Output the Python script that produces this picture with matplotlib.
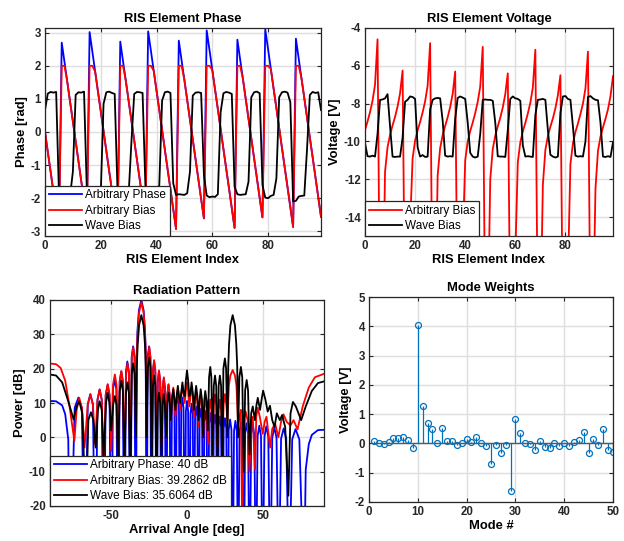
import matplotlib
matplotlib.use("Agg")
import matplotlib.pyplot as plt

# ---------------- data ----------------
element_index = list(range(100))

arb_phase = [0.00, -0.60, -1.19, -1.79, -2.39, -2.99, 2.70, 2.11, 1.51, 0.91,
             0.32, -0.28, -0.88, -1.48, -2.07, -2.67, 3.02, 2.42, 1.82, 1.22,
             0.63, 0.03, -0.57, -1.17, -1.76, -2.36, -2.96, 2.73, 2.13, 1.54,
             0.94, 0.34, -0.25, -0.85, -1.45, -2.05, -2.64, 3.04, 2.45, 1.85,
             1.25, 0.66, 0.06, -0.54, -1.14, -1.73, -2.33, -2.93, 2.76, 2.16,
             1.57, 0.97, 0.37, -0.22, -0.82, -1.42, -2.02, -2.61, 3.07, 2.48,
             1.88, 1.28, 0.69, 0.09, -0.51, -1.11, -1.70, -2.30, -2.90, 2.79,
             2.19, 1.60, 1.00, 0.40, -0.19, -0.79, -1.39, -1.99, -2.58, 3.10,
             2.51, 1.91, 1.31, 0.72, 0.12, -0.48, -1.08, -1.67, -2.27, -2.87,
             2.82, 2.22, 1.62, 1.03, 0.43, -0.17, -0.76, -1.36, -1.96, -2.56]

arb_bias_phase = [0.00, -0.60, -1.19, -1.79, -2.39, -2.99, 2.00, 2.00, 1.51, 0.91,
                  0.32, -0.28, -0.88, -1.48, -2.07, -2.67, 2.00, 2.00, 1.82, 1.22,
                  0.63, 0.03, -0.57, -1.17, -1.76, -2.36, -2.96, 2.00, 2.00, 1.54,
                  0.94, 0.34, -0.25, -0.85, -1.45, -2.05, -2.64, 2.00, 2.00, 1.85,
                  1.25, 0.66, 0.06, -0.54, -1.14, -1.73, -2.33, -2.93, 2.00, 2.00,
                  1.57, 0.97, 0.37, -0.22, -0.82, -1.42, -2.02, -2.61, 2.00, 2.00,
                  1.88, 1.28, 0.69, 0.09, -0.51, -1.11, -1.70, -2.30, -2.90, 2.00,
                  2.00, 1.60, 1.00, 0.40, -0.19, -0.79, -1.39, -1.99, -2.58, 2.00,
                  2.00, 1.91, 1.31, 0.72, 0.12, -0.48, -1.08, -1.67, -2.27, -2.87,
                  2.00, 2.00, 1.62, 1.03, 0.43, -0.17, -0.76, -1.36, -1.96, -2.56]

wave_bias_phase = [0.66, 1.16, 1.21, 1.19, 1.21, -1.85, -1.93, -1.93, -1.90, -1.92,
                   -1.20, 1.12, 1.20, 1.19, 1.22, -1.75, -1.93, -1.92, -1.95, -1.92,
                   -1.85, 0.85, 1.20, 1.22, 1.18, 1.15, -1.75, -1.93, -1.95, -1.93,
                   -1.88, -0.30, 1.15, 1.21, 1.20, 1.18, -1.60, -1.92, -1.94, -1.93,
                   -1.92, -1.60, 0.95, 1.20, 1.22, 1.18, -1.55, -1.90, -1.88, -1.89,
                   -1.90, -1.85, -1.20, 1.10, 1.19, 1.20, 1.18, -1.30, -1.92, -1.97,
                   -1.95, -1.96, -1.88, 0.60, 1.17, 1.21, 1.19, 1.15, -1.65, -1.88,
                   -1.90, -1.89, -1.88, -1.50, 1.05, 1.20, 1.22, 1.17, -1.60, -1.98,
                   -2.00, -1.93, -1.90, -1.40, 1.05, 1.20, 1.22, 1.19, 0.90, -2.10,
                   -2.08, -1.95, -1.93, -1.92, -0.50, 1.12, 1.21, 1.18, 1.20, 0.66]

arb_bias_volt = [-9.40, -8.95, -8.45, -7.85, -7.00, -4.60, -20.0, -20.0, -11.6, -10.3,
                 -9.65, -9.15, -8.70, -8.15, -7.45, -6.25, -20.0, -20.0, -14.5, -10.9,
                 -9.95, -9.42, -8.97, -8.47, -7.88, -7.05, -4.80, -20.0, -20.0, -11.8,
                 -10.35, -9.67, -9.18, -8.72, -8.18, -7.48, -6.30, -20.0, -20.0, -15.5,
                 -11.0, -10.0, -9.45, -9.00, -8.50, -7.90, -7.10, -5.00, -20.0, -20.0,
                 -12.0, -10.4, -9.70, -9.20, -8.75, -8.20, -7.50, -6.40, -20.0, -20.0,
                 -16.0, -11.1, -10.05, -9.47, -9.02, -8.52, -7.95, -7.15, -5.15, -20.0,
                 -20.0, -12.3, -10.45, -9.72, -9.22, -8.78, -8.25, -7.55, -6.50, -20.0,
                 -20.0, -17.0, -11.2, -10.1, -9.50, -9.05, -8.55, -8.00, -7.20, -5.25,
                 -20.0, -20.0, -12.5, -10.5, -9.75, -9.25, -8.80, -8.30, -7.60, -6.55]

wave_bias_volt = [-10.08, -10.78, -10.80, -10.75, -10.80, -9.60, -7.80, -7.78, -7.72, -7.50,
                  -9.20, -10.80, -10.82, -10.80, -10.80, -9.80, -7.90, -7.80, -7.62, -7.65,
                  -7.75, -10.30, -10.80, -10.72, -10.82, -10.80, -8.30, -7.80, -7.72, -7.70,
                  -7.72, -8.90, -10.75, -10.80, -10.78, -10.80, -8.80, -7.70, -7.62, -7.68,
                  -7.75, -9.00, -10.60, -10.80, -10.85, -10.80, -9.60, -7.80, -7.78, -7.80,
                  -7.80, -7.85, -9.00, -10.78, -10.80, -10.80, -10.82, -9.40, -7.75, -7.62,
                  -7.72, -7.75, -7.85, -10.20, -10.80, -10.78, -10.80, -10.82, -8.60, -7.80,
                  -7.78, -7.75, -7.80, -9.40, -10.70, -10.80, -10.85, -10.80, -8.50, -7.62,
                  -7.60, -7.75, -7.80, -9.20, -10.75, -10.80, -10.78, -10.80, -10.00, -7.65,
                  -7.60, -7.72, -7.80, -7.82, -9.00, -10.80, -10.82, -10.78, -10.82, -10.05]

# radiation pattern, (angle deg, power dB) read lobe by lobe
arb_phase_pattern = [
    (-90, 10.6), (-86, 10.5), (-82, 9.3), (-80, 6.7), (-78, -0.6), (-76.8, -45),
    (-73.8, 8.6), (-71.3, 11.6), (-69.1, 8.6), (-67.1, -45),
    (-65.2, 9.6), (-63.5, 12.6), (-61.8, 9.6), (-60.3, -45),
    (-58.8, 10.9), (-57.4, 13.9), (-56.0, 10.9), (-54.7, -45),
    (-53.4, 12.3), (-52.1, 15.3), (-50.9, 12.3), (-49.7, -45),
    (-48.6, 14.0), (-47.5, 17.0), (-46.4, 14.0), (-45.3, -45),
    (-44.2, 16.2), (-43.2, 19.2), (-42.2, 16.2), (-41.1, -45),
    (-40.1, 19.1), (-39.2, 22.1), (-38.2, 19.1), (-37.3, -45),
    (-36.3, 23.5), (-35.4, 26.5), (-34.5, 23.5), (-33.6, -45),
    (-33.0, 24.6), (-32.5, 31.3), (-31.6, 37.0), (-30.0, 40.0),
    (-28.5, 37.0), (-27.6, 31.3), (-27.1, 24.6), (-26.6, -45),
    (-25.8, 23.5), (-24.9, 26.5), (-24.1, 23.5), (-23.3, -45),
    (-22.4, 19.1), (-21.6, 22.1), (-20.8, 19.1), (-20.0, -45),
    (-19.2, 16.2), (-18.4, 19.2), (-17.6, 16.2), (-16.8, -45),
    (-16.0, 14.0), (-15.3, 17.0), (-14.5, 14.0), (-13.7, -45),
    (-12.9, 12.3), (-12.2, 15.3), (-11.4, 12.3), (-10.6, -45),
    (-9.9, 10.9), (-9.1, 13.9), (-8.3, 10.9), (-7.6, -45),
    (-6.8, 9.6), (-6.0, 12.6), (-5.3, 9.6), (-4.5, -45),
    (-3.8, 8.6), (-3.0, 11.6), (-2.3, 8.6), (-1.5, -45),
    (-0.75, 7.6), (0.0, 10.6), (0.75, 7.6), (1.5, -45),
    (2.3, 6.8), (3.0, 9.8), (3.8, 6.8), (4.5, -45),
    (5.3, 6.0), (6.0, 9.0), (6.8, 6.0), (7.6, -45),
    (8.3, 5.3), (9.1, 8.3), (9.9, 5.3), (10.6, -45),
    (11.4, 4.7), (12.2, 7.7), (12.9, 4.7), (13.7, -45),
    (14.5, 4.1), (15.3, 7.1), (16.0, 4.1), (16.8, -45),
    (17.6, 3.6), (18.4, 6.6), (19.2, 3.6), (20.0, -45),
    (20.8, 3.1), (21.6, 6.1), (22.4, 3.1), (23.3, -45),
    (24.1, 2.6), (24.9, 5.6), (25.8, 2.6), (26.6, -45),
    (27.4, 2.2), (28.3, 5.2), (29.2, 2.2), (30.0, -45),
    (30.9, 1.8), (31.8, 4.8), (32.7, 1.8), (33.6, -45),
    (34.5, 1.4), (35.4, 4.4), (36.3, 1.4), (37.3, -45),
    (38.2, 1.1), (39.2, 4.1), (40.1, 1.1), (41.1, -45),
    (42.2, 0.8), (43.2, 3.8), (44.2, 0.8), (45.3, -45),
    (46.4, 0.4), (47.5, 3.4), (48.6, 0.4), (49.7, -45),
    (50.9, 0.2), (52.1, 3.2), (53.4, 0.2), (54.7, -45),
    (56.0, -0.1), (57.4, 2.9), (58.8, -0.1), (60.3, -45),
    (61.8, -0.4), (63.5, 2.6), (65.2, -0.4), (67.1, -45),
    (69.1, -0.6), (71.3, 2.4), (73.8, -0.6), (76.8, -45),
    (78, -9.4), (80, -2.0), (82, 0.7), (86, 2.1), (90, 2.2),
]

arb_bias_pattern = [
    (-90, 21.5), (-86, 21.3), (-83, 20.2), (-80, 16.5), (-77, 8.5), (-74.0, -1.0),
    (-72.5, 8.0), (-70.8, 11.5), (-69.0, 8.5), (-67.3, -3),
    (-65.2, 9.5), (-63.5, 12.5), (-61.8, 9.5), (-60.4, -2),
    (-58.8, 11.0), (-57.4, 14.0), (-56.0, 11.0), (-54.8, -8),
    (-53.4, 12.5), (-52.1, 15.5), (-50.9, 12.5), (-49.8, -4),
    (-48.6, 15.3), (-47.4, 18.3), (-46.3, 15.3), (-45.3, -6),
    (-44.2, 16.5), (-43.1, 19.3), (-42.1, 16.5), (-41.1, -10),
    (-40.1, 18.5), (-39.1, 21.5), (-38.2, 18.5), (-37.3, -8),
    (-36.3, 23.2), (-35.3, 26.2), (-34.4, 23.2), (-33.6, 5),
    (-33.0, 24.0), (-32.4, 30.6), (-31.5, 36.3), (-30.0, 39.3),
    (-28.5, 36.3), (-27.6, 30.6), (-27.1, 24.0), (-26.6, 5),
    (-25.7, 23.3), (-24.8, 26.3), (-24.0, 23.3), (-23.2, 2),
    (-22.4, 19.5), (-21.6, 22.5), (-20.8, 19.5), (-20.0, -5),
    (-19.2, 16.5), (-18.4, 19.5), (-17.6, 16.5), (-16.8, -2),
    (-16.0, 14.5), (-15.2, 17.5), (-14.4, 14.5), (-13.7, 3),
    (-12.9, 12.5), (-12.1, 15.5), (-11.4, 12.5), (-10.6, 5),
    (-9.8, 11.5), (-9.0, 14.5), (-8.3, 11.5), (-7.6, 6),
    (-6.8, 11.5), (-6.0, 14.3), (-5.3, 11.5), (-4.5, 8),
    (-3.8, 12.5), (-3.0, 15.0), (-2.3, 12.5), (-1.5, 10),
    (-0.75, 13.5), (0.0, 16.0), (0.75, 13.5), (1.5, 9),
    (2.3, 12.0), (3.0, 14.5), (3.8, 12.0), (4.5, 6),
    (5.3, 10.5), (6.0, 13.0), (6.8, 10.5), (7.6, 3),
    (8.3, 9.5), (9.1, 12.5), (9.9, 9.5), (10.6, 0),
    (11.4, 8.5), (12.2, 11.5), (12.9, 8.5), (13.7, -2),
    (14.5, 8.0), (15.3, 11.0), (16.0, 8.0), (16.8, -5),
    (17.6, 9.5), (18.4, 12.5), (19.2, 9.5), (20.0, -3),
    (20.8, 8.0), (21.6, 11.0), (22.4, 8.0), (23.3, 0),
    (24.1, 9.6), (24.9, 12.6), (25.8, 9.6), (26.6, 5),
    (27.5, 15.0), (28.5, 18.0), (30.0, 19.6), (31.5, 18.0), (32.5, 15.0), (33.6, 3),
    (34.5, 6.0), (35.4, 8.0), (36.2, -25),
    (37.3, 5.0), (38.5, 7.5), (39.8, 5.0), (41.0, -10),
    (42.2, 4.0), (43.2, 6.0), (44.7, -9.4),
    (45.5, 6.0), (46.5, 8.6), (47.8, 6.0), (49.8, 1),
    (51.0, 4.5), (52.2, 6.0), (54.6, -3),
    (56.0, 2.5), (57.9, 4.0), (60.0, 0),
    (61.8, 4.5), (63.4, 6.7), (65.5, 4.5), (68.0, 3.5),
    (70.0, 5.0), (72.6, 2.3), (76.0, 9.0), (80.0, 14.5), (84.0, 17.5), (90.0, 18.5),
]

wave_bias_pattern = [
    (-90, 18.3), (-86, 18.0), (-82, 16.0), (-78, 10.5), (-74.5, 5.2),
    (-72.5, 9.0), (-70.8, 10.5), (-68.8, 7.0), (-66.4, -22),
    (-64.8, 5.0), (-63.1, 7.3), (-61.5, 5.0), (-60.0, -3),
    (-58.5, 8.0), (-57.4, 10.5), (-56.0, 8.0), (-54.8, -6),
    (-53.2, 10.0), (-52.1, 13.0), (-50.9, 10.0), (-49.8, 2),
    (-48.5, 9.5), (-47.4, 12.0), (-46.3, 9.5), (-45.3, -6),
    (-44.2, 13.5), (-43.1, 16.5), (-42.1, 13.5), (-41.1, -10),
    (-40.1, 13.0), (-39.1, 16.0), (-38.2, 13.0), (-37.3, -15),
    (-36.3, 18.5), (-35.4, 21.5), (-34.4, 18.5), (-33.5, 0),
    (-33.0, 20.5), (-32.4, 27.0), (-31.5, 32.6), (-30.0, 35.6),
    (-28.5, 32.6), (-27.6, 27.0), (-27.1, 20.5), (-26.6, 0),
    (-25.7, 20.2), (-24.7, 23.2), (-23.9, 20.2), (-23.2, -10),
    (-22.4, 15.0), (-21.6, 18.0), (-20.8, 15.0), (-20.0, -20),
    (-19.2, 10.0), (-18.4, 13.0), (-17.6, 10.0), (-16.8, -5),
    (-16.0, 9.5), (-15.3, 12.5), (-14.5, 9.5), (-13.7, 0),
    (-12.9, 10.0), (-12.0, 13.0), (-11.3, 10.0), (-10.6, 5),
    (-9.8, 11.0), (-9.0, 14.0), (-8.3, 11.0), (-7.6, 8),
    (-6.8, 12.0), (-6.0, 15.0), (-5.3, 12.0), (-4.5, 10),
    (-3.8, 13.0), (-3.0, 16.0), (-2.3, 13.0), (-1.5, 12),
    (-0.75, 16.5), (0.0, 19.5), (0.75, 16.5), (1.5, 12),
    (2.3, 13.0), (3.0, 16.0), (3.8, 13.0), (4.5, 8),
    (5.3, 12.0), (6.0, 15.0), (6.8, 12.0), (7.6, 5),
    (8.3, 11.0), (9.0, 14.0), (9.8, 11.0), (10.6, 0),
    (11.3, 10.5), (12.0, 13.5), (12.9, 10.5), (13.7, 2),
    (14.5, 17.5), (15.3, 20.5), (16.0, 17.5), (16.8, -5),
    (17.6, 15.0), (18.4, 18.0), (19.2, 15.0), (20.0, -10),
    (20.8, 15.0), (21.6, 18.0), (22.4, 15.0), (23.2, -15),
    (23.9, 20.0), (24.9, 23.0), (25.7, 20.0), (26.6, 0),
    (27.1, 20.5), (27.6, 27.0), (28.5, 32.6), (30.0, 35.6),
    (31.5, 32.6), (32.4, 27.0), (33.0, 20.5), (33.5, 0),
    (34.4, 17.5), (35.4, 20.5), (36.3, 17.5), (37.3, -10),
    (38.2, 13.7), (39.2, 16.7), (40.1, 13.7), (41.1, -5),
    (42.2, 7.0), (43.2, 9.0), (44.6, 5.0),
    (45.5, 9.0), (46.5, 11.5), (48.0, 8.0),
    (49.0, 11.0), (50.0, 13.6), (51.5, 11.0), (53.0, 7.5),
    (54.5, 9.2), (56.0, 5.0), (57.5, 3.0),
    (59.0, 7.0), (61.0, 5.0), (62.5, 6.5), (64.5, 3.0), (66.6, -17),
    (68.0, 7.0), (69.6, 10.3), (71.5, 9.0), (75.0, 5.0),
    (78.0, 9.0), (82.0, 13.5), (86.0, 15.8), (90.0, 16.3),
]

mode_number = list(range(1, 51))
mode_weight = [0.07, 0.00, -0.02, 0.05, 0.20, 0.18, 0.21, 0.12, -0.16, 4.03,
               1.27, 0.71, 0.48, 0.02, 0.53, 0.07, 0.08, -0.05, 0.03, 0.15,
               0.06, 0.21, 0.02, -0.10, -0.69, -0.05, -0.33, -0.07, -1.62, 0.83,
               0.34, 0.00, -0.02, -0.23, 0.09, -0.11, -0.14, 0.00, -0.10, 0.02,
               -0.08, 0.06, 0.11, 0.39, -0.32, 0.16, -0.06, 0.48, -0.24, -0.29]

# ---------------- style ----------------
plt.rcParams["font.family"] = ["Liberation Sans", "DejaVu Sans"]
plt.rcParams["font.size"] = 8.5
plt.rcParams["axes.unicode_minus"] = False
AX_COL = "#262626"
GRID_COL = "#dedede"


def matlab_axes(ax):
    ax.grid(True, color=GRID_COL, linewidth=1.0)
    ax.set_axisbelow(True)
    for s in ax.spines.values():
        s.set_color(AX_COL)
        s.set_linewidth(0.9)
    ax.tick_params(direction="in", length=3, width=0.8, colors=AX_COL,
                   labelsize=8.3, top=True, right=True, pad=3)
    for lab in ax.get_xticklabels() + ax.get_yticklabels():
        lab.set_fontweight("bold")
        lab.set_color(AX_COL)


def matlab_legend(ax):
    leg = ax.legend(loc="lower left", bbox_to_anchor=(0, 0), borderaxespad=0,
                    fancybox=False, framealpha=1, edgecolor=AX_COL,
                    handlelength=2.8, handletextpad=0.3, labelspacing=0.3,
                    borderpad=0.3, fontsize=8.5)
    leg.get_frame().set_linewidth(0.9)
    return leg


fig = plt.figure(figsize=(6.24, 5.41), dpi=100)
W, H = 624.0, 541.0


def px_axes(x0, y0, x1, y1):
    return fig.add_axes([x0 / W, 1 - y1 / H, (x1 - x0) / W, (y1 - y0) / H])


title_kw = dict(fontsize=9.4, fontweight="bold", pad=4)
label_kw = dict(fontsize=9.4, fontweight="bold")

# ---- RIS Element Phase ----
ax1 = px_axes(45, 28, 321, 236)
ax1.plot(element_index, arb_phase, color="blue", lw=1.3, label="Arbitrary Phase")
ax1.plot(element_index, arb_bias_phase, color="red", lw=1.3, label="Arbitrary Bias")
ax1.plot(element_index, wave_bias_phase, color="black", lw=1.3, label="Wave Bias")
ax1.set_xlim(0, 99)
ax1.set_ylim(-3.1416, 3.1416)
ax1.set_xticks([0, 20, 40, 60, 80])
ax1.set_yticks([-3, -2, -1, 0, 1, 2, 3])
ax1.set_title("RIS Element Phase", **title_kw)
ax1.set_xlabel("RIS Element Index", labelpad=1, **label_kw)
ax1.set_ylabel("Phase [rad]", labelpad=2, **label_kw)
matlab_axes(ax1)
matlab_legend(ax1)

# ---- RIS Element Voltage ----
ax2 = px_axes(365, 28, 613, 236)
ax2.plot(element_index, arb_bias_volt, color="red", lw=1.3, label="Arbitrary Bias")
ax2.plot(element_index, wave_bias_volt, color="black", lw=1.3, label="Wave Bias")
ax2.set_xlim(0, 99)
ax2.set_ylim(-15, -4)
ax2.set_xticks([0, 20, 40, 60, 80])
ax2.set_yticks([-14, -12, -10, -8, -6, -4])
ax2.set_title("RIS Element Voltage", **title_kw)
ax2.set_xlabel("RIS Element Index", labelpad=1, **label_kw)
ax2.set_ylabel("Voltage [V]", labelpad=2, **label_kw)
matlab_axes(ax2)
matlab_legend(ax2)

# ---- Radiation Pattern ----
ax3 = px_axes(50, 300, 324, 506)
for pattern, col, name in [(arb_phase_pattern, "blue", "Arbitrary Phase: 40 dB"),
                           (arb_bias_pattern, "red", "Arbitrary Bias: 39.2862 dB"),
                           (wave_bias_pattern, "black", "Wave Bias: 35.6064 dB")]:
    ang = [p[0] for p in pattern]
    pwr = [p[1] for p in pattern]
    ax3.plot(ang, pwr, color=col, lw=1.3, label=name)
ax3.set_xlim(-90, 90)
ax3.set_ylim(-20, 40)
ax3.set_xticks([-50, 0, 50])
ax3.set_yticks([-20, -10, 0, 10, 20, 30, 40])
ax3.set_title("Radiation Pattern", **title_kw)
ax3.set_xlabel("Arrival Angle [deg]", labelpad=1, **label_kw)
ax3.set_ylabel("Power [dB]", labelpad=2, **label_kw)
matlab_axes(ax3)
matlab_legend(ax3)

# ---- Mode Weights ----
ax4 = px_axes(369, 297, 613, 502)
mk, st, bl = ax4.stem(mode_number, mode_weight, basefmt="-")
plt.setp(st, color="#0072BD", linewidth=0.9)
plt.setp(mk, color="#0072BD", markerfacecolor="none", markersize=4.3, markeredgewidth=0.9)
plt.setp(bl, color="#595959", linewidth=1.0)
ax4.set_xlim(0, 50)
ax4.set_ylim(-2, 5)
ax4.set_xticks([0, 10, 20, 30, 40, 50])
ax4.set_yticks([-2, -1, 0, 1, 2, 3, 4, 5])
ax4.set_title("Mode Weights", **title_kw)
ax4.set_xlabel("Mode #", labelpad=1, **label_kw)
ax4.set_ylabel("Voltage [V]", labelpad=2, **label_kw)
matlab_axes(ax4)

fig.savefig("out.png", dpi=100)
